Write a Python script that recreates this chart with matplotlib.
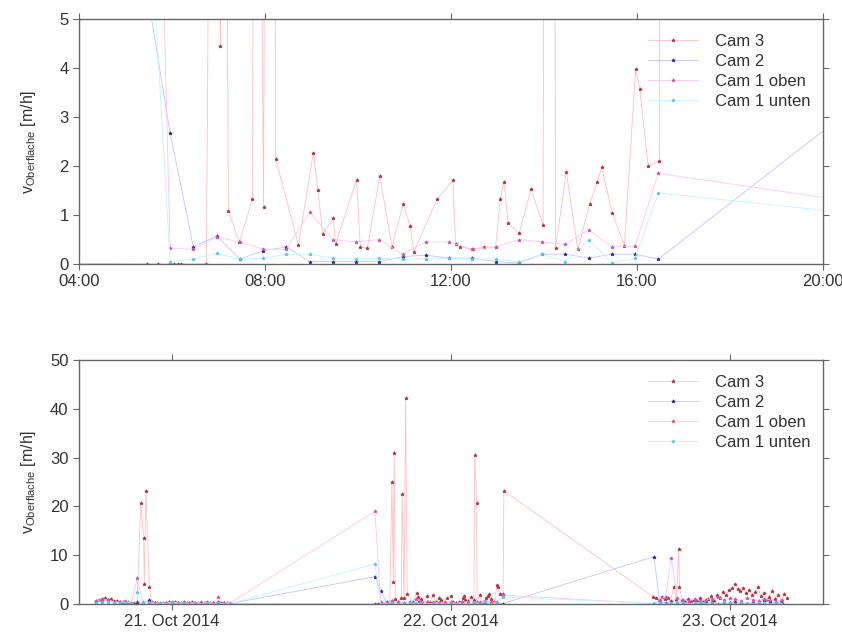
import pandas as pd
import matplotlib
matplotlib.use('Agg')
import matplotlib.pyplot as plt
import matplotlib.dates as mdates

plt.rcParams['font.family'] = ['Liberation Sans', 'DejaVu Sans']
plt.rcParams['mathtext.fontset'] = 'custom'
plt.rcParams['mathtext.rm'] = 'Liberation Sans'

# hour of day / value, per camera and day (Oct 2014)
c3_21_h = [5.5, 5.75, 6.0, 6.25, 6.5, 6.75, 7.0, 7.25, 7.5, 7.75, 8.0, 8.25, 8.5, 8.75, 9.0,
           9.33, 9.56, 9.62, 9.76, 10.05, 10.25, 10.5, 10.75, 11.0, 11.25, 11.5, 11.75, 12.0,
           12.25, 12.5, 12.75, 13.0, 13.25, 13.5, 13.75, 14.0, 14.25, 14.5, 14.75, 15.0, 15.25,
           15.5, 15.75, 16.0, 16.25, 16.5, 16.75, 17.0]
c3_21_v = [0.7, 0.9, 1.1, 1.3, 0.8, 1.0, 0.6, 0.7, 0.5, 0.4, 0.3, 0.5, 0.2, 0.3, 0.4,
           20.7, 13.5, 4.2, 23.1, 3.5, 0.4, 0.2, 0.3, 0.1, 0.2, 0.3, 0.4, 0.2,
           0.5, 0.3, 0.2, 0.4, 0.3, 0.2, 0.4, 0.3, 0.2, 0.1, 0.3, 0.4, 0.2,
           0.3, 0.1, 0.4, 0.3, 0.2, 0.3, 0.1]
c3_22_h = [5.46, 5.7, 5.96, 6.04, 6.12, 6.2, 6.74, 6.92, 7.04, 7.12,
           7.21, 7.45, 7.73, 7.8, 7.97, 8.1, 8.23, 8.72, 9.04, 9.14,
           9.24, 9.46, 9.52, 9.97, 10.05, 10.2, 10.47, 10.73, 10.97, 11.12,
           11.2, 11.7, 12.04, 12.1, 12.2, 12.47, 12.7, 12.96, 13.06, 13.14,
           13.23, 13.47, 13.72, 13.98, 14.05, 14.2, 14.25, 14.48, 14.73, 14.98,
           15.15, 15.24, 15.47, 15.73, 15.97, 16.06, 16.24, 16.48, 16.55]
c3_22_v = [0.0, 0.0, 0.0, 0.0, 0.0, 0.0, 0.0, 25.0, 4.45, 31.0,
           1.08, 0.45, 1.32, 22.5, 1.16, 42.2, 2.15, 0.39, 2.27, 1.51,
           0.61, 0.93, 0.41, 1.72, 0.35, 0.32, 1.8, 0.35, 1.22, 0.78,
           0.25, 1.32, 1.71, 0.41, 0.35, 0.3, 0.35, 0.35, 1.32, 1.68,
           0.83, 0.63, 1.53, 0.8, 30.5, 20.7, 0.33, 1.87, 0.3, 1.22,
           1.68, 1.97, 1.04, 0.37, 3.97, 3.58, 2.0, 2.1, 23.2]
c3_23_h = [5.4, 5.65, 5.9, 6.15, 6.4, 6.65, 6.9, 7.15, 7.4, 7.6, 7.65, 7.9, 8.15, 8.4,
           8.65, 8.9, 9.15, 9.4, 9.65, 9.9, 10.15, 10.4, 10.65, 10.9, 11.15, 11.4, 11.65,
           11.9, 12.15, 12.4, 12.65, 12.9, 13.15, 13.4, 13.65, 13.9, 14.15, 14.4, 14.65,
           14.9, 15.15, 15.4, 15.65, 15.9, 16.15, 16.4, 16.65, 16.9]
c3_23_v = [1.5, 1.2, 0.8, 1.4, 1.0, 1.3, 0.6, 3.5, 0.9, 11.3, 3.5, 0.8, 0.5, 1.1,
           0.6, 0.9, 0.7, 1.2, 0.5, 0.8, 1.0, 1.6, 0.7, 1.9, 1.2, 2.4, 1.8,
           2.9, 3.2, 4.1, 3.0, 2.6, 3.3, 2.2, 2.8, 1.9, 2.5, 3.5, 1.7,
           2.2, 0.9, 1.5, 2.7, 1.1, 1.8, 0.6, 2.0, 1.3]

# cam 2 and cam 1 record every half hour
c2_21_h = [5.5 + 0.5 * i for i in range(24)]
c2_21_v = [0.5, 0.6, 0.8, 0.4, 0.3, 0.5, 0.2, 0.3, 0.1, 0.8, 0.2, 0.1,
           0.2, 0.1, 0.3, 0.2, 0.1, 0.2, 0.3, 0.1, 0.2, 0.1, 0.2, 0.1]
c2_22_h = [5.46 + 0.5 * i for i in range(23)]
c2_22_v = [5.6, 2.67, 0.35, 0.57, 0.1, 0.27, 0.35, 0.05, 0.05, 0.05, 0.05, 0.15,
           0.18, 0.12, 0.12, 0.05, 0.02, 0.2, 0.2, 0.12, 0.2, 0.2, 0.1]
c2_23_h = [5.46 + 0.5 * i for i in range(23)]
c2_23_v = [9.7, 0.3, 0.2, 0.4, 0.1, 0.3, 0.2, 0.1, 0.3, 0.2, 0.4, 0.1,
           0.2, 0.3, 0.5, 0.2, 0.1, 0.3, 0.2, 0.8, 0.4, 0.2, 0.3]

c1o_21_v = [0.6, 1.0, 0.8, 0.5, 0.4, 0.6, 0.3, 5.3, 0.5, 0.4, 0.2, 0.3,
            0.2, 0.4, 0.3, 0.2, 0.3, 0.2, 0.4, 0.3, 0.2, 1.4, 0.3, 0.2]
c1o_22_v = [19.0, 0.32, 0.3, 0.55, 0.45, 0.3, 0.3, 1.06, 0.5, 0.45, 0.5, 0.2,
            0.45, 0.45, 0.3, 0.35, 0.5, 0.45, 0.4, 0.7, 0.35, 0.37, 1.85]
c1o_23_v = [0.05, 0.9, 1.5, 9.4, 1.2, 0.8, 0.6, 1.0, 0.7, 0.9, 1.1, 1.4,
            0.8, 1.2, 1.0, 0.6, 1.3, 0.9, 0.7, 1.1, 0.8, 0.5, 0.9]

c1u_21_v = [0.3, 0.4, 0.5, 0.3, 0.2, 0.3, 0.2, 2.5, 0.3, 0.2, 0.1, 0.2,
            0.1, 0.2, 0.1, 0.2, 0.1, 0.2, 0.1, 0.2, 0.1, 0.2, 0.1, 0.1]
c1u_22_v = [8.2, 0.05, 0.1, 0.22, 0.1, 0.12, 0.2, 0.2, 0.12, 0.1, 0.12, 0.1,
            0.1, 0.12, 0.1, 0.1, 0.05, 0.2, 0.05, 0.5, 0.02, 0.12, 1.45]
c1u_23_v = [0.16, 0.2, 0.1, 0.3, 0.5, 0.2, 0.1, 0.2, 0.3, 0.1, 0.2, 0.1,
            0.4, 0.2, 0.1, 0.3, 0.2, 0.1, 0.2, 0.3, 0.1, 0.2, 0.1]

labels = ['Cam 3', 'Cam 2', 'Cam 1 oben', 'Cam 1 unten']
line_colors = ['#ffc0c0', '#c4c4ff', '#ffc4f4', '#bff4ff']
marker_colors = ['#b03040', '#28288a', '#d050b0', '#50c8e8']


def to_time(day, hours):
    base = pd.Timestamp('2014-10-%02d' % day)
    return [base + pd.Timedelta(hours=h) for h in hours]


def series(days):
    t = []
    v = []
    for day, h, vals in days:
        t += to_time(day, h)
        v += vals
    return t, v


cams = [
    series([(21, c3_21_h, c3_21_v), (22, c3_22_h, c3_22_v), (23, c3_23_h, c3_23_v)]),
    series([(21, c2_21_h, c2_21_v), (22, c2_22_h, c2_22_v), (23, c2_23_h, c2_23_v)]),
    series([(21, c2_21_h, c1o_21_v), (22, c2_22_h, c1o_22_v), (23, c2_23_h, c1o_23_v)]),
    series([(21, c2_21_h, c1u_21_v), (22, c2_22_h, c1u_22_v), (23, c2_23_h, c1u_23_v)]),
]

fig = plt.figure(figsize=(8.42, 6.36), dpi=100)
ax1 = fig.add_axes([0.0938, 0.5849, 0.8836, 0.3852])
ax2 = fig.add_axes([0.0938, 0.0503, 0.8836, 0.3836])

ylabel = r'$\mathregular{v_{Oberflache}}$ [m/h]'

for ax in [ax1, ax2]:
    for i in range(len(cams)):
        t, v = cams[i]
        ax.plot(t, v, '-', color=line_colors[i], lw=0.6, marker='*', ms=2.6,
                mfc=marker_colors[i], mec=marker_colors[i], mew=0.5, label=labels[i])
    for s in ax.spines.values():
        s.set_color('#666666')
        s.set_linewidth(1.0)
    ax.tick_params(direction='out', top=True, right=True, colors='#666666',
                   labelcolor='#333333', labelsize=12, length=4)
    ax.set_ylabel(ylabel, fontsize=11.5, color='#333333')
    ax.yaxis.set_label_coords(-0.055, 0.5)
    leg = ax.legend(loc='upper right', bbox_to_anchor=(1.003, 1.0), frameon=False,
                    fontsize=12, handlelength=3.0, labelspacing=0.3, handletextpad=1.0)
    for txt in leg.get_texts():
        txt.set_color('#333333')

ax1.set_xlim(pd.Timestamp('2014-10-22 04:00'), pd.Timestamp('2014-10-22 20:00'))
ax1.set_ylim(0, 5)
ax1.set_yticks([0, 1, 2, 3, 4, 5])
ax1.xaxis.set_major_locator(mdates.HourLocator(byhour=[0, 4, 8, 12, 16, 20]))
ax1.xaxis.set_major_formatter(mdates.DateFormatter('%H:%M'))

ax2.set_xlim(pd.Timestamp('2014-10-21 04:00'), pd.Timestamp('2014-10-23 20:00'))
ax2.set_ylim(0, 50)
ax2.set_yticks([0, 10, 20, 30, 40, 50])
ax2.xaxis.set_major_locator(mdates.HourLocator(byhour=[12]))
ax2.xaxis.set_major_formatter(mdates.DateFormatter('%d. %b %Y'))

plt.savefig('out.png', dpi=100)
